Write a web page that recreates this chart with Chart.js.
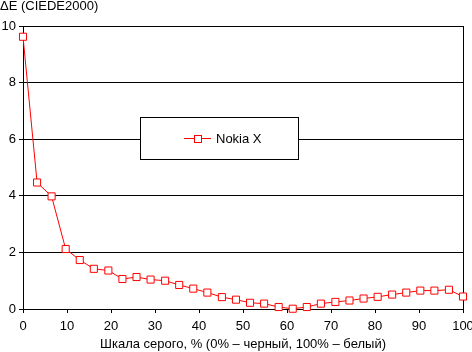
<!DOCTYPE html>
<html>
<head>
<meta charset="utf-8">
<script src="https://cdn.jsdelivr.net/npm/chart.js@4/dist/chart.umd.min.js"></script>
<style>
  html, body { margin: 0; padding: 0; background: #fff; }
  #wrap { width: 472px; height: 352px; }
</style>
</head>
<body>
<div id="wrap"><canvas id="grafico" width="472" height="352"></canvas></div>
<script>
// уровни серого, %
const grayLevels = [0, 3.2, 6.5, 9.7, 12.9, 16.1, 19.4, 22.6, 25.8, 29.0, 32.3, 35.5, 38.7, 41.9, 45.2, 48.4,
  51.6, 54.8, 58.1, 61.3, 64.5, 67.7, 71.0, 74.2, 77.4, 80.6, 83.9, 87.1, 90.3, 93.5, 96.8, 100];
// ΔE для Nokia X
const deltaE = [9.62, 4.47, 3.98, 2.12, 1.73, 1.42, 1.36, 1.06, 1.13, 1.04, 1.00, 0.85, 0.72, 0.58, 0.42, 0.33,
  0.22, 0.19, 0.07, 0.01, 0.07, 0.19, 0.25, 0.30, 0.37, 0.43, 0.51, 0.58, 0.65, 0.65, 0.68, 0.44];
const seriesName = 'Nokia X';
const xTitle = 'Шкала серого, % (0% – черный, 100% – белый)';
const yTitle = 'ΔE (CIEDE2000)';
const FONT = '"Liberation Sans", Arial, sans-serif';

const extras = {
  id: 'extras',
  beforeDatasetsDraw(chart) {
    const { ctx, chartArea } = chart;
    ctx.save();
    ctx.strokeStyle = '#000';
    ctx.lineWidth = 1;
    ctx.beginPath();
    ctx.moveTo(Math.round(chartArea.right) + 0.5, chartArea.top);
    ctx.lineTo(Math.round(chartArea.right) + 0.5, chartArea.bottom);
    ctx.stroke();
    ctx.restore();
  },
  afterDraw(chart) {
    const ctx = chart.ctx;
    ctx.save();
    // подпись оси Y
    ctx.fillStyle = '#000';
    ctx.font = '13px ' + FONT;
    ctx.textBaseline = 'middle';
    ctx.textAlign = 'left';
    ctx.fillText(yTitle, 0, 6);
    // легенда
    ctx.fillStyle = '#fff';
    ctx.fillRect(140.5, 117.5, 158, 42);
    ctx.strokeStyle = '#000';
    ctx.lineWidth = 1;
    ctx.strokeRect(140.5, 117.5, 158, 42);
    ctx.strokeStyle = '#ff0000';
    ctx.beginPath();
    ctx.moveTo(184, 138.5);
    ctx.lineTo(211, 138.5);
    ctx.stroke();
    ctx.fillStyle = '#fff';
    ctx.fillRect(194, 135, 7, 7);
    ctx.strokeRect(194.5, 135.5, 7, 7);
    ctx.fillStyle = '#000';
    ctx.fillText(seriesName, 216, 139);
    ctx.restore();
  }
};

new Chart(document.getElementById('grafico').getContext('2d'), {
  type: 'line',
  data: {
    datasets: [{
      label: seriesName,
      data: grayLevels.map((x, i) => ({ x: x, y: deltaE[i] })),
      borderColor: '#ff0000',
      borderWidth: 1,
      pointStyle: 'rect',
      pointRadius: 5,
      pointBorderWidth: 1,
      pointBorderColor: '#ff0000',
      pointBackgroundColor: '#ffffff',
      tension: 0,
      clip: false
    }]
  },
  options: {
    responsive: false,
    animation: false,
    layout: { padding: { left: 0, right: 9, top: 26, bottom: 0 } },
    plugins: {
      legend: { display: false },
      tooltip: { enabled: false }
    },
    scales: {
      x: {
        type: 'linear',
        min: 0,
        max: 100,
        afterFit: (s) => { s.height = 43; s.paddingLeft = 0; s.paddingRight = 0; },
        ticks: { stepSize: 10, color: '#000', font: { size: 13, family: FONT }, padding: 6, maxRotation: 0 },
        grid: { drawOnChartArea: false, drawTicks: true, tickLength: 4, color: '#000' },
        border: { display: true, color: '#000' },
        title: { display: true, text: xTitle, color: '#000', font: { size: 13, family: FONT }, padding: { top: 0, bottom: 0 } }
      },
      y: {
        min: 0,
        max: 10,
        afterFit: (s) => { s.width = 23; s.paddingTop = 0; s.paddingBottom = 0; },
        ticks: { stepSize: 2, color: '#000', font: { size: 13, family: FONT }, padding: 3 },
        grid: { color: '#000', tickLength: 4 },
        border: { display: true, color: '#000' }
      }
    }
  },
  plugins: [extras]
});
</script>
</body>
</html>
